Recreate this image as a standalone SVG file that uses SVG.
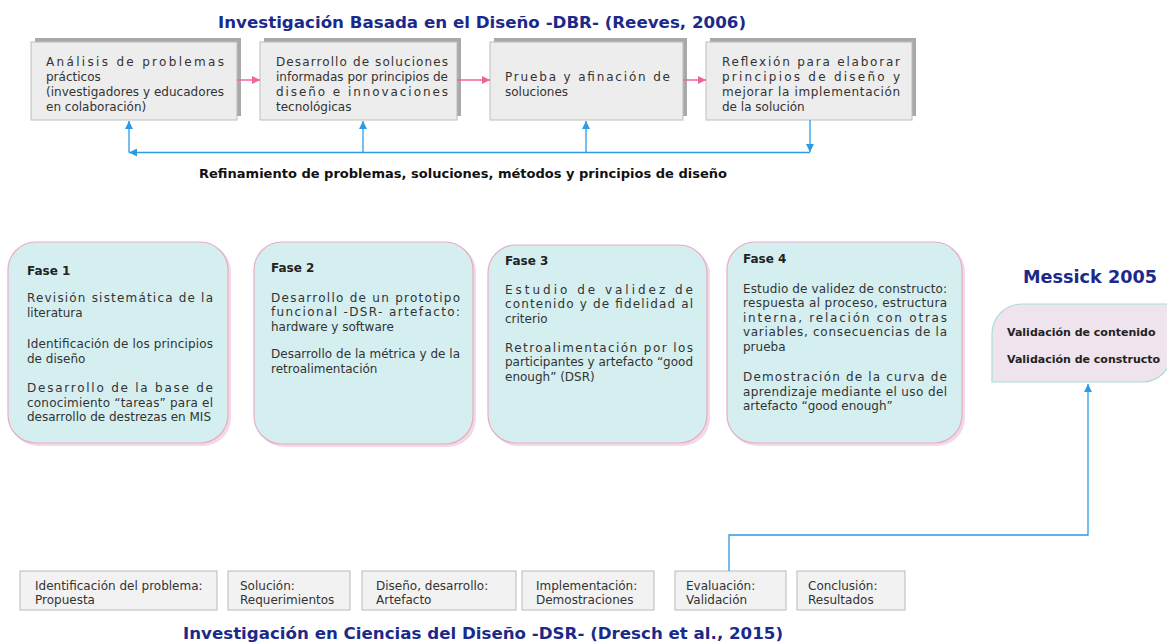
<svg xmlns="http://www.w3.org/2000/svg" width="1167" height="643" viewBox="0 0 1167 643">
<defs>
<marker id="ap" viewBox="0 0 10 10" refX="10" refY="5" markerUnits="userSpaceOnUse" markerWidth="9" markerHeight="8" orient="auto"><path d="M0,0 L10,5 L0,10 z" fill="#f0649e"/></marker>
<marker id="ab" viewBox="0 0 10 10" refX="10" refY="5" markerUnits="userSpaceOnUse" markerWidth="10" markerHeight="8" orient="auto"><path d="M0,0 L10,5 L0,10 z" fill="#2b9be6"/></marker>
</defs>
<style>
.t{font-family:"DejaVu Sans",Verdana,sans-serif;font-size:12px;fill:#333}
.tb{font-family:"DejaVu Sans",Verdana,sans-serif;font-size:12px;font-weight:bold;fill:#222}
.ttl{font-family:"DejaVu Sans",Verdana,sans-serif;font-size:16.7px;font-weight:bold;fill:#1b2a8a}
.sh{fill:#a9a9a9}
.tbox{fill:#ededed;stroke:#bdbdbd;stroke-width:1}
.psh{fill:#efd0df;opacity:.8}
.pbox{fill:#d5eff1;stroke:#e8abc9;stroke-width:1.2}
.bbox{fill:#f2f2f2;stroke:#b9b9b9;stroke-width:1}
.pk{stroke:#f0649e;stroke-width:1.5;fill:none}
.bl{stroke:#2b9be6;stroke-width:1.3;fill:none}
</style>

<text class="ttl" x="218" y="28" textLength="528" lengthAdjust="spacingAndGlyphs">Investigación Basada en el Diseño -DBR- (Reeves, 2006)</text>

<g id="dbr1">
<rect class="sh" x="35" y="38" width="206" height="78"/>
<rect class="tbox" x="31" y="42" width="206" height="78"/>
<text class="t" x="46" y="66" textLength="178" lengthAdjust="spacing">Análisis de problemas</text>
<text class="t" x="46" y="81">prácticos</text>
<text class="t" x="46" y="96" textLength="178" lengthAdjust="spacing">(investigadores y educadores</text>
<text class="t" x="46" y="111">en colaboración)</text>
</g>
<g id="dbr2">
<rect class="sh" x="264" y="38" width="197" height="78"/>
<rect class="tbox" x="260" y="42" width="197" height="78"/>
<text class="t" x="276" y="66" textLength="172" lengthAdjust="spacing">Desarrollo de soluciones</text>
<text class="t" x="276" y="81" textLength="172" lengthAdjust="spacing">informadas por principios de</text>
<text class="t" x="276" y="96" textLength="172" lengthAdjust="spacing">diseño e innovaciones</text>
<text class="t" x="276" y="111">tecnológicas</text>
</g>
<g id="dbr3">
<rect class="sh" x="494" y="38" width="193" height="78"/>
<rect class="tbox" x="490" y="42" width="193" height="78"/>
<text class="t" x="505" y="81" textLength="165" lengthAdjust="spacing">Prueba y afinación de</text>
<text class="t" x="505" y="96">soluciones</text>
</g>
<g id="dbr4">
<rect class="sh" x="710" y="38" width="206" height="78"/>
<rect class="tbox" x="706" y="42" width="206" height="78"/>
<text class="t" x="722" y="66" textLength="178" lengthAdjust="spacing">Reflexión para elaborar</text>
<text class="t" x="722" y="81" textLength="178" lengthAdjust="spacing">principios de diseño y</text>
<text class="t" x="722" y="96" textLength="178" lengthAdjust="spacing">mejorar la implementación</text>
<text class="t" x="722" y="111">de la solución</text>
</g>

<text class="tb" style="font-size:13px;fill:#111" x="199" y="178" textLength="528" lengthAdjust="spacingAndGlyphs">Refinamiento de problemas, soluciones, métodos y principios de diseño</text>

<g id="fase1">
<rect class="psh" x="10" y="244" width="221" height="202" rx="28"/>
<rect class="pbox" x="8" y="242" width="220" height="201" rx="28"/>
<text class="tb" x="27" y="275">Fase 1</text>
<text class="t" x="27" y="302" textLength="186" lengthAdjust="spacing">Revisión sistemática de la</text>
<text class="t" x="27" y="316.5">literatura</text>
<text class="t" x="27" y="348" textLength="186" lengthAdjust="spacing">Identificación de los principios</text>
<text class="t" x="27" y="362.5">de diseño</text>
<text class="t" x="27" y="392" textLength="186" lengthAdjust="spacing">Desarrollo de la base de</text>
<text class="t" x="27" y="406.5" textLength="186" lengthAdjust="spacing">conocimiento “tareas” para el</text>
<text class="t" x="27" y="421">desarrollo de destrezas en MIS</text>
</g>
<g id="fase2">
<rect class="psh" x="256" y="244" width="220" height="203" rx="28"/>
<rect class="pbox" x="254" y="242" width="219" height="202" rx="28"/>
<text class="tb" x="271" y="271.5">Fase 2</text>
<text class="t" x="271" y="301.5" textLength="189" lengthAdjust="spacing">Desarrollo de un prototipo</text>
<text class="t" x="271" y="316" textLength="189" lengthAdjust="spacing">funcional -DSR- artefacto:</text>
<text class="t" x="271" y="330.5">hardware y software</text>
<text class="t" x="271" y="358" textLength="189" lengthAdjust="spacing">Desarrollo de la métrica y de la</text>
<text class="t" x="271" y="372.5">retroalimentación</text>
</g>
<g id="fase3">
<rect class="psh" x="490" y="247" width="220" height="199" rx="28"/>
<rect class="pbox" x="488" y="245" width="219" height="198" rx="28"/>
<text class="tb" x="505" y="264.5">Fase 3</text>
<text class="t" x="505" y="293.5" textLength="188" lengthAdjust="spacing">Estudio de validez de</text>
<text class="t" x="505" y="308" textLength="188" lengthAdjust="spacing">contenido y de fidelidad al</text>
<text class="t" x="505" y="322.5">criterio</text>
<text class="t" x="505" y="351.5" textLength="188" lengthAdjust="spacing">Retroalimentación por los</text>
<text class="t" x="505" y="366" textLength="188" lengthAdjust="spacing">participantes y artefacto “good</text>
<text class="t" x="505" y="380.5">enough” (DSR)</text>
</g>
<g id="fase4">
<rect class="psh" x="729" y="244" width="236" height="202" rx="28"/>
<rect class="pbox" x="727" y="242" width="235" height="201" rx="28"/>
<text class="tb" x="743" y="262.5">Fase 4</text>
<text class="t" x="743" y="292.5" textLength="204" lengthAdjust="spacing">Estudio de validez de constructo:</text>
<text class="t" x="743" y="307" textLength="204" lengthAdjust="spacing">respuesta al proceso, estructura</text>
<text class="t" x="743" y="321.5" textLength="204" lengthAdjust="spacing">interna, relación con otras</text>
<text class="t" x="743" y="336" textLength="204" lengthAdjust="spacing">variables, consecuencias de la</text>
<text class="t" x="743" y="350.5">prueba</text>
<text class="t" x="743" y="381" textLength="204" lengthAdjust="spacing">Demostración de la curva de</text>
<text class="t" x="743" y="395.5" textLength="204" lengthAdjust="spacing">aprendizaje mediante el uso del</text>
<text class="t" x="743" y="410">artefacto “good enough”</text>
</g>

<text class="ttl" style="font-size:17.5px" x="1023" y="283" textLength="134" lengthAdjust="spacingAndGlyphs">Messick 2005</text>
<g id="messick">
<path d="M992,382 L992,334 A30,30 0 0 1 1022,304 L1172,304 L1172,352 A30,30 0 0 1 1142,382 Z" fill="#efe3ee" stroke="#a9dfd2" stroke-width="1.2"/>
<text class="tb" style="font-size:11px" x="1007" y="336">Validación de contenido</text>
<text class="tb" style="font-size:11px" x="1007" y="363">Validación de constructo</text>
</g>

<g id="dsr1"><rect class="bbox" x="20" y="571" width="197" height="39"/>
<text class="t" x="35" y="589.5">Identificación del problema:</text><text class="t" x="35" y="603.5">Propuesta</text></g>
<g id="dsr2"><rect class="bbox" x="228" y="571" width="122" height="39"/>
<text class="t" x="240" y="589.5">Solución:</text><text class="t" x="240" y="603.5">Requerimientos</text></g>
<g id="dsr3"><rect class="bbox" x="362" y="571" width="154" height="39"/>
<text class="t" x="376" y="589.5">Diseño, desarrollo:</text><text class="t" x="376" y="603.5">Artefacto</text></g>
<g id="dsr4"><rect class="bbox" x="522" y="571" width="132" height="39"/>
<text class="t" x="536" y="589.5">Implementación:</text><text class="t" x="536" y="603.5">Demostraciones</text></g>
<g id="dsr5"><rect class="bbox" x="675" y="571" width="111" height="39"/>
<text class="t" x="686" y="589.5">Evaluación:</text><text class="t" x="686" y="603.5">Validación</text></g>
<g id="dsr6"><rect class="bbox" x="797" y="571" width="108" height="39"/>
<text class="t" x="808" y="589.5">Conclusión:</text><text class="t" x="808" y="603.5">Resultados</text></g>

<text class="ttl" x="183" y="639" textLength="600" lengthAdjust="spacingAndGlyphs">Investigación en Ciencias del Diseño -DSR- (Dresch et al., 2015)</text>

<g id="connectors">
<line class="pk" x1="237" y1="80" x2="260" y2="80" marker-end="url(#ap)"/>
<line class="pk" x1="457" y1="80" x2="490" y2="80" marker-end="url(#ap)"/>
<line class="pk" x1="683" y1="80" x2="706" y2="80" marker-end="url(#ap)"/>
<path class="bl" d="M810,120 V152" marker-end="url(#ab)"/>
<path class="bl" d="M810,152.5 H129" marker-end="url(#ab)"/>
<path class="bl" d="M129,152.5 V121" marker-end="url(#ab)"/>
<path class="bl" d="M363,152.5 V121" marker-end="url(#ab)"/>
<path class="bl" d="M586,152.5 V121" marker-end="url(#ab)"/>
<path class="bl" d="M729,571 V535 H1088 V384" marker-end="url(#ab)"/>
</g>
</svg>
